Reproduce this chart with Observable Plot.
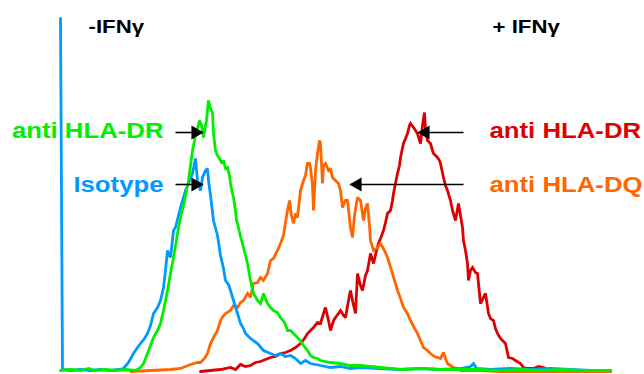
<!DOCTYPE html>
<html>
<head>
<meta charset="utf-8">
<script src="https://cdn.jsdelivr.net/npm/d3@7"></script>
<script src="https://cdn.jsdelivr.net/npm/@observablehq/plot@0.6"></script>
<style>
  html, body { margin: 0; padding: 0; background: #ffffff; }
  #chart { width: 644px; height: 374px; }
</style>
</head>
<body>
<div id="chart"></div>
<script>
// Fluorescence histograms: [channel, count]
const isotype = [[0,353],[2,2],[10,1],[20,2],[30,1],[40,2],[50,1],[58,2],[63,3],[68,9],[73,18],[77,24],[80,28],[84,33],[87,38],[90,46],[93,58],[97,64],[100,71],[103,84],[105,101],[107,121],[110,114],[113,141],[115,144],[120,164],[125,181],[128,188],[132,198],[135,213],[137,191],[140,181],[142,194],[145,201],[147,203],[148,191],[150,176],[153,151],[157,136],[160,116],[163,103],[165,91],[168,87],[170,81],[173,71],[177,58],[180,48],[183,43],[185,38],[190,33],[197,28],[203,21],[210,18],[215,16],[220,18],[225,15],[230,16],[235,13],[240,8],[245,11],[250,8],[255,7],[260,6],[270,4],[280,5],[290,3],[300,4],[320,3],[340,2],[360,3],[380,2],[400,3],[410,5],[413,8],[416,3],[430,2],[450,3],[470,2],[490,3],[510,2],[530,1],[550,1]];

const hlaDrMinus = [[0,1],[10,2],[20,1],[28,3],[35,1],[45,2],[55,1],[65,2],[75,1],[80,4],[83,8],[87,18],[90,26],[93,34],[97,41],[100,48],[103,61],[107,81],[110,98],[113,114],[117,138],[120,154],[123,166],[126,181],[128,191],[130,206],[132,221],[134,231],[135,238],[137,243],[139,251],[141,246],[143,234],[145,246],[146,251],[148,271],[150,263],[152,259],[153,238],[155,221],[157,216],[159,213],[161,209],[163,211],[165,203],[167,204],[169,196],[170,188],[172,178],[173,174],[175,161],[176,151],[177,148],[180,135],[183,124],[185,116],[187,108],[190,91],[193,78],[197,71],[200,68],[203,78],[207,68],[210,64],[213,61],[217,59],[220,54],[224,49],[227,41],[230,41],[233,38],[237,34],[240,31],[243,26],[247,21],[250,16],[253,14],[257,13],[260,11],[270,9],[280,8],[290,6],[300,6],[310,5],[320,4],[330,3],[340,2],[360,3],[380,2],[400,2],[420,2],[440,1],[460,2],[480,1],[500,2],[520,1],[540,1],[550,1]];

const hlaDqPlus = [[70,0],[90,1],[110,2],[120,3],[130,7],[137,9],[140,9],[144,13],[147,18],[150,28],[153,34],[157,41],[160,51],[163,56],[165,58],[170,61],[173,66],[177,64],[180,69],[183,71],[187,78],[190,74],[193,88],[197,89],[200,94],[203,91],[207,98],[210,111],[213,113],[217,121],[220,128],[223,136],[225,149],[227,161],[229,171],[231,156],[233,148],[235,158],[237,154],[240,181],[243,191],[245,196],[247,208],[249,208],[250,204],[252,186],[253,161],[255,201],[257,218],[259,231],[260,228],[262,188],[263,206],[265,208],[268,201],[270,203],[272,194],[275,191],[278,188],[280,181],[282,164],[285,171],[287,171],[290,144],[292,134],[294,156],[297,174],[300,171],[303,151],[305,163],[307,168],[309,146],[310,131],[313,121],[317,124],[320,128],[324,121],[327,114],[332,98],[337,81],[340,73],[343,64],[347,58],[350,51],[353,45],[357,38],[360,31],[363,24],[367,21],[370,18],[374,15],[377,14],[380,13],[383,19],[385,13],[387,8],[390,6],[393,4],[397,3],[400,1],[420,1],[440,0],[550,0]];

const hlaDrPlus = [[140,0],[150,1],[160,2],[170,4],[175,2],[180,7],[185,5],[190,6],[195,9],[200,10],[205,12],[210,14],[215,15],[220,18],[225,19],[230,21],[235,24],[240,28],[244,33],[247,38],[250,41],[253,44],[257,49],[260,48],[263,58],[265,64],[268,51],[270,41],[273,51],[275,54],[278,58],[280,61],[283,56],[285,54],[288,71],[290,81],[292,71],[295,58],[297,98],[300,86],[302,81],[305,96],[307,101],[310,118],[313,108],[316,121],[318,128],[320,133],[323,141],[325,149],[327,158],[330,161],[332,171],[333,178],[335,188],[337,198],[339,206],[340,214],[343,228],[345,233],[347,238],[349,246],[350,248],[353,244],[355,241],[357,238],[359,231],[360,228],[362,246],[364,259],[365,241],[367,231],[370,228],[372,221],[373,218],[375,216],[377,214],[379,211],[380,208],[383,194],[385,186],[387,181],[390,171],[392,161],[395,151],[398,168],[400,156],[402,144],[403,131],[405,121],[407,108],[408,91],[410,101],[412,104],[415,99],[417,98],[420,68],[423,74],[425,78],[428,58],[430,53],[433,51],[435,43],[437,38],[440,33],[442,31],[445,28],[448,14],[452,13],[455,11],[460,8],[463,4],[467,3],[473,3],[478,5],[483,4],[488,2],[493,1],[510,1],[530,0],[550,0]];

// Colours
const colors = {isotype: "#0099ff", drMinus: "#00ee00", dqPlus: "#ff6600", drPlus: "#dd0000"};

// Headers [channel, count, text]
const headers = [[28, 345, "-IFN\u03b3"], [432, 345, "+ IFN\u03b3"]];
// Left labels (right-aligned) [channel, count, text, colour key]
const leftLabels = [[103, 241, "anti HLA-DR", "drMinus"], [103, 187, "Isotype", "isotype"]];
// Right labels (left-aligned)
const rightLabels = [[429, 241, "anti HLA-DR", "drPlus"], [429, 187, "anti HLA-DQ", "dqPlus"]];
// Arrows [fromChannel, toChannel, count]
const arrowsRight = [[115, 142, 239], [115, 142, 187]];
const arrowsLeft = [[403, 358, 239], [403, 290, 187]];

const font = "'Liberation Sans', Arial, sans-serif";

const series = [
  {data: hlaDrPlus, color: colors.drPlus},
  {data: hlaDqPlus, color: colors.dqPlus},
  {data: isotype, color: colors.isotype},
  {data: hlaDrMinus, color: colors.drMinus}
];

const plot = Plot.plot({
  width: 644,
  height: 374,
  margin: 0,
  style: {background: "#ffffff", overflow: "visible"},
  x: {domain: [0, 550], range: [60, 610], axis: null},
  y: {domain: [0, 353], range: [371, 18], axis: null},
  marks: [
    ...series.map(s => Plot.line(s.data, {x: d => d[0], y: d => d[1], stroke: s.color, strokeWidth: 2.8, strokeLinejoin: "miter", strokeMiterlimit: 2})),
    Plot.link(arrowsRight, {x1: d => d[0], x2: d => d[1], y1: d => d[2], y2: d => d[2], stroke: "#000", strokeWidth: 1.6}),
    Plot.link(arrowsLeft, {x1: d => d[0], x2: d => d[1], y1: d => d[2], y2: d => d[2], stroke: "#000", strokeWidth: 1.6}),
    Plot.dot(arrowsRight, {x: d => d[1], y: d => d[2], symbol: "triangle", r: 5.2, fill: "#000", stroke: null, rotate: 90, dx: -7}),
    Plot.dot(arrowsLeft, {x: d => d[1], y: d => d[2], symbol: "triangle", r: 5.2, fill: "#000", stroke: null, rotate: -90, dx: 7}),
    Plot.text(headers, {x: d => d[0], y: d => d[1], text: d => d[2], fill: "#000", textAnchor: "start", fontSize: 19, fontWeight: "bold", fontFamily: font}),
    Plot.text(leftLabels, {x: d => d[0], y: d => d[1], text: d => d[2], fill: d => colors[d[3]], textAnchor: "end", fontSize: 22, fontWeight: "bold", fontFamily: font}),
    Plot.text(rightLabels, {x: d => d[0], y: d => d[1], text: d => d[2], fill: d => colors[d[3]], textAnchor: "start", fontSize: 22, fontWeight: "bold", fontFamily: font})
  ]
});
document.getElementById("chart").appendChild(plot);

// Horizontally widen the bold labels as in the original figure
d3.select(plot).selectAll("text").each(function() {
  const len = this.getComputedTextLength();
  this.setAttribute("textLength", (len * 1.17).toFixed(1));
  this.setAttribute("lengthAdjust", "spacingAndGlyphs");
});
</script>
</body>
</html>
